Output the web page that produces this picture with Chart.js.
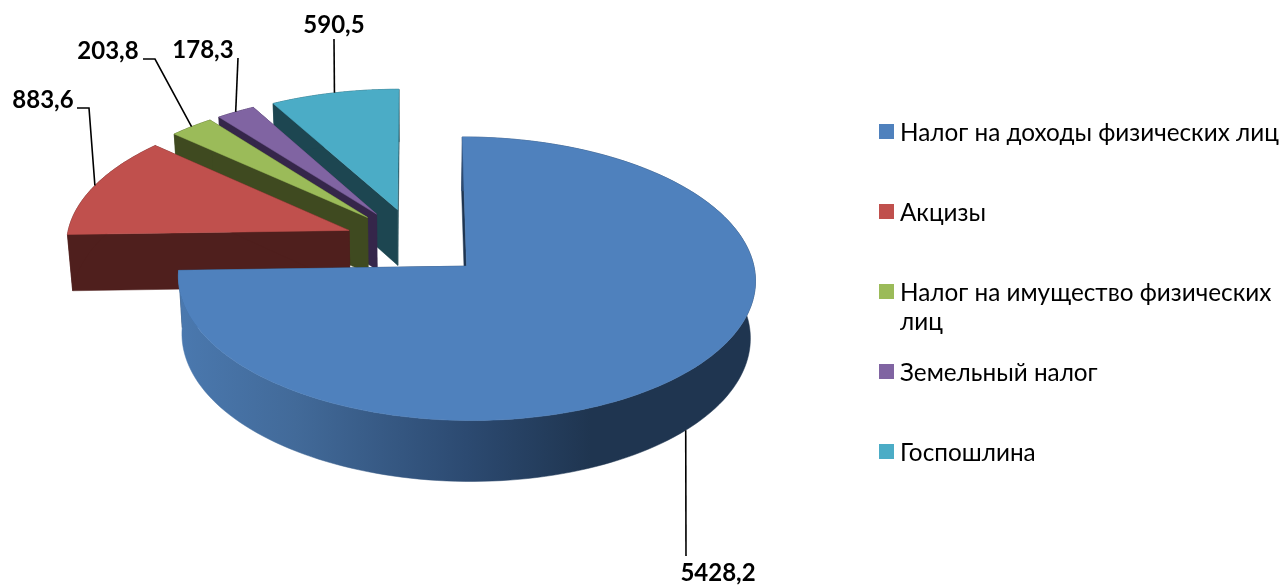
<!DOCTYPE html>
<html>
<head>
<meta charset="utf-8">
<script src="https://cdn.jsdelivr.net/npm/chart.js@4"></script>
<style>
  html, body { margin: 0; background: #fff; }
  #box { width: 1283px; height: 586px; }
</style>
</head>
<body>
<div id="box"><canvas id="pie-chart" width="1283" height="586"></canvas></div>
<script>
const categories = ['Налог на доходы физических лиц', 'Акцизы', 'Налог на имущество физических лиц', 'Земельный налог', 'Госпошлина'];
const values = [5428.2, 883.6, 203.8, 178.3, 590.5];
const legendLines = [['Налог на доходы физических лиц'], ['Акцизы'], ['Налог на имущество физических', 'лиц'], ['Земельный налог'], ['Госпошлина']];

const topColors = ['#4f81bd', '#c0504d', '#9bbb59', '#8064a2', '#4bacc6'];
const wallColors = ['#1f3550', '#4f1f1d', '#3f4a20', '#35264a', '#1d4651'];

// pie seen from above: perspective and thickness
const tilt = 0.482, persp = 0.00031, depth = 56.5, shrink = 0.985;
const labelFont = 'bold 24px Lato, "Open Sans", sans-serif';
const legendFont = '24.3px Lato, "Open Sans", sans-serif';

// where each value label sits, and the bend of its leader line
const labelSpots = [
  { x: 718, y: 573, line: [[686, 556]] },
  { x: 43, y: 100, line: [[77, 108], [89, 108]] },
  { x: 108, y: 51, line: [[143, 59], [155, 59]] },
  { x: 203, y: 50, line: [[238, 58]] },
  { x: 334, y: 25, line: [[334, 39]] }
];

function project(arc, px, py, low) {
  const f = 1 / (1 - persp * py);
  const s = low ? shrink : 1;
  return {
    x: arc.x + px * f * s,
    y: arc.y + tilt * py * f + (low ? depth * Math.pow(f, 0.7) : 0)
  };
}

function poly(ctx, pts, fill) {
  ctx.beginPath();
  pts.forEach((p, i) => i ? ctx.lineTo(p.x, p.y) : ctx.moveTo(p.x, p.y));
  ctx.closePath();
  ctx.fillStyle = fill;
  ctx.strokeStyle = fill;
  ctx.lineWidth = 0.5;
  ctx.fill();
  ctx.stroke();
}

function edgeOf(arc, off, a, low) {
  const mid = (arc.startAngle + arc.endAngle) / 2;
  const d = arc.outerRadius;
  return project(arc, Math.cos(mid) * off + Math.cos(a) * d, Math.sin(mid) * off + Math.sin(a) * d, low);
}

function drawSlice(ctx, arc, i) {
  const off = arc.options.offset;
  const mid = (arc.startAngle + arc.endAngle) / 2;
  const apexTop = project(arc, Math.cos(mid) * off, Math.sin(mid) * off, false);
  const apexLow = project(arc, Math.cos(mid) * off, Math.sin(mid) * off, true);
  const steps = 160;
  const topEdge = [], lowEdge = [];
  for (let k = 0; k <= steps; k++) {
    const a = arc.startAngle + (arc.endAngle - arc.startAngle) * k / steps;
    topEdge.push(edgeOf(arc, off, a, false));
    lowEdge.push(edgeOf(arc, off, a, true));
  }

  poly(ctx, [apexTop, topEdge[0], lowEdge[0], apexLow], wallColors[i]);
  poly(ctx, [apexTop, topEdge[steps], lowEdge[steps], apexLow], wallColors[i]);

  let side = wallColors[i];
  if (i === 0) {
    const xs = lowEdge.map(p => p.x);
    const x0 = Math.min(...xs), x1 = Math.max(...xs);
    side = ctx.createLinearGradient(x0, 0, x1, 0);
    side.addColorStop(0, '#4a78ae');
    side.addColorStop(0.2, '#426a99');
    side.addColorStop(0.5, '#2c4a71');
    side.addColorStop(0.72, '#1f3550');
    side.addColorStop(1, '#1f3550');
  }
  poly(ctx, topEdge.concat(lowEdge.slice().reverse()), side);
  poly(ctx, [apexTop].concat(topEdge), topColors[i]);
}

const pie3d = {
  id: 'pie3d',
  beforeDatasetDraw(chart, args) {
    const ctx = chart.ctx;
    const arcs = args.meta.data;
    ctx.save();
    for (let i = arcs.length - 1; i >= 0; i--) drawSlice(ctx, arcs[i], i);
    ctx.restore();
    return false;
  },
  afterDatasetsDraw(chart) {
    const ctx = chart.ctx;
    const arcs = chart.getDatasetMeta(0).data;
    ctx.save();
    ctx.strokeStyle = '#000';
    ctx.lineWidth = 1.6;
    ctx.fillStyle = '#000';
    ctx.font = labelFont;
    ctx.textAlign = 'center';
    ctx.textBaseline = 'middle';
    arcs.forEach((arc, i) => {
      const mid = (arc.startAngle + arc.endAngle) / 2;
      const start = edgeOf(arc, arc.options.offset, mid, Math.sin(mid) > 0.5);
      const spot = labelSpots[i];
      ctx.beginPath();
      ctx.moveTo(start.x, start.y);
      spot.line.slice().reverse().forEach(p => ctx.lineTo(p[0], p[1]));
      ctx.stroke();
      ctx.fillText(values[i].toFixed(1).replace('.', ','), spot.x, spot.y);
    });
    ctx.restore();
  },
  afterDraw(chart) {
    const ctx = chart.ctx;
    ctx.save();
    ctx.font = legendFont;
    ctx.textAlign = 'left';
    ctx.textBaseline = 'middle';
    legendLines.forEach((lines, i) => {
      const y = 133 + i * 80;
      ctx.fillStyle = topColors[i];
      ctx.fillRect(879, y - 9, 15, 15);
      ctx.fillStyle = '#000';
      lines.forEach((t, n) => ctx.fillText(t, 900, y + n * 29));
    });
    ctx.restore();
  }
};

new Chart(document.getElementById('pie-chart'), {
  type: 'pie',
  data: {
    labels: categories,
    datasets: [{
      data: values,
      backgroundColor: topColors,
      borderWidth: 0,
      offset: 70.7
    }]
  },
  options: {
    responsive: false,
    animation: false,
    radius: 283,
    layout: { padding: { right: 453, bottom: 102 } },
    plugins: { legend: { display: false }, tooltip: { enabled: false } }
  },
  plugins: [pie3d]
});
</script>
</body>
</html>
